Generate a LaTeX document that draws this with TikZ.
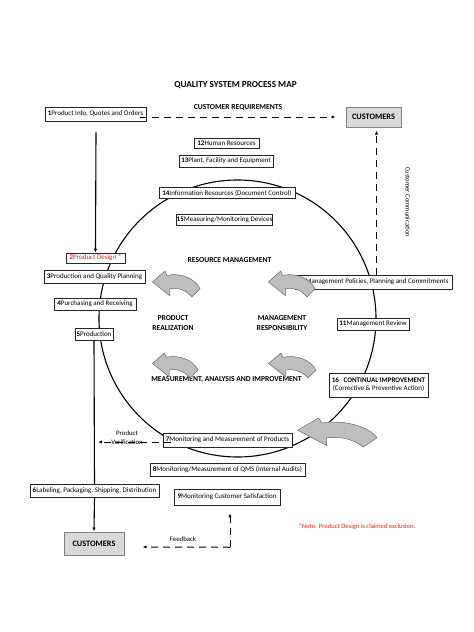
\documentclass[tikz,border=0pt]{standalone}
\usepackage{fontspec}
\setmainfont{Carlito}
\usetikzlibrary{calc,arrows.meta}
\definecolor{notered}{RGB}{215,40,40}
\definecolor{arrowfill}{RGB}{190,190,190}
\definecolor{arrowline}{RGB}{105,105,105}
\definecolor{custfill}{RGB}{217,217,217}
\newcommand{\garrowshape}[4]{\filldraw[garrow, shift={(#1,#2)}, xscale=#3, yscale=#4] (0.01,0.42) -- (0.27,0) -- (0.31,0.17) .. controls (0.6,0.05) and (0.9,0.3) .. (1,0.68) -- (0.83,1) .. controls (0.72,0.75) and (0.55,0.62) .. (0.37,0.68) -- (0.37,0.95) -- cycle;}
\begin{document}
\begin{tikzpicture}[x=1pt,y=-1pt,
 box/.style={draw=black!85, fill=white, line width=0.5pt, inner sep=0pt, font=\fontsize{7}{8}\selectfont},
 bx/.style 2 args={box, minimum width=#1pt, minimum height=#2pt},
 cust/.style={draw=black!50, fill=custfill, line width=1pt, inner sep=0pt, font=\bfseries\fontsize{8.3}{9}\selectfont},
 lbl/.style={font=\bfseries\fontsize{7.6}{9.6}\selectfont, align=center, inner sep=0pt},
 txt/.style={font=\fontsize{6.8}{8.5}\selectfont, align=center, inner sep=0pt},
 dasharrow/.style={dash pattern=on 7pt off 5pt, line width=1pt, -{Latex[length=4pt,width=3.2pt]}},
 solidarrow/.style={line width=1.1pt, -{Latex[length=4pt,width=3.2pt]}},
 solidline/.style={line width=1.1pt},
 garrow/.style={fill=arrowfill, draw=arrowline, line width=0.5pt}]
\fill[white] (0,0) rectangle (474,632);
\useasboundingbox (0,0) rectangle (474,632);

% big cycle
\draw[line width=1.1pt] (237.5,318.5) circle [radius=138.5pt];

% titles
\node[lbl, font=\bfseries\fontsize{9.2}{11}\selectfont] (title) at (235.5,85) {QUALITY SYSTEM PROCESS MAP};
\node[lbl] (creq) at (238,107) {CUSTOMER REQUIREMENTS};

% boxes
\node[bx={101}{14}] (b1) at (95.5,114) {\textbf{1}Product Info, Quotes and Orders};
\node[bx={59}{10}, text=notered] (b2) at (95.5,258) {\textbf{2}Product Design *};
\node[bx={101}{13}] (b3) at (94.5,276.5) {\textbf{3}Production and Quality Planning};
\node[bx={82}{12}] (b4) at (95,304) {\textbf{4}Purchasing and Receiving};
\node[bx={38}{12}] (b5) at (94,334) {\textbf{5}Production};
\node[bx={129}{13}] (b6) at (94.5,490.5) {\textbf{6}Labeling, Packaging, Shipping, Distribution};
\node[bx={129}{14}] (b7) at (227.5,440) {\textbf{7}Monitoring and Measurement of Products};
\node[bx={155}{13}] (b8) at (227.5,469.5) {\textbf{8}Monitoring/Measurement of QMS (Internal Audits)};
\node[bx={106}{16}] (b9) at (227,497) {\textbf{9}Monitoring Customer Satisfaction};
\node[bx={157}{14}] (b10) at (373.5,282) {\textbf{10}Management Policies, Planning and Commitments};
\node[bx={72}{12}] (b11) at (373,324) {\textbf{11}Management Review};
\node[bx={65}{10}] (b12) at (226.5,143.5) {\textbf{12}Human Resources};
\node[bx={94}{12}] (b13) at (226,161) {\textbf{13}Plant, Facility and Equipment};
\node[bx={136}{11}] (b14) at (227,193) {\textbf{14}Information Resources (Document Control)};
\node[bx={95}{11}] (b15) at (224.5,219.5) {\textbf{15}Measuring/Monitoring Devices};
\node[bx={99}{24}, align=center] (b16) at (378.5,385) {\textbf{16\ \ \ CONTINUAL IMPROVEMENT}\\(Corrective \& Preventive Action)};
\node[cust, minimum width=55pt, minimum height=20pt] (cust1) at (373.5,117) {CUSTOMERS};
\node[cust, minimum width=60pt, minimum height=23pt] (cust2) at (94,543.5) {CUSTOMERS};

% section labels
\node[lbl] (rm) at (229.5,260) {RESOURCE MANAGEMENT};
\node[lbl] (pr) at (173,323) {PRODUCT\\REALIZATION};
\node[lbl] (mr) at (282,323) {MANAGEMENT\\RESPONSIBILITY};
\node[lbl] (mai) at (226.5,380) {MEASUREMENT, ANALYSIS AND IMPROVEMENT};

% gray curved arrows
\garrowshape{152}{271}{48}{26}
\garrowshape{268}{271}{47}{26}
\garrowshape{152}{353}{46}{25}
\garrowshape{268}{353}{48}{25}
\garrowshape{297}{418}{80}{29}

% connectors
\coordinate (v1) at ($(b1.south)+(0.5,11)$);
\draw[solidarrow] (v1) -- (b2.north);
\draw[solidline] (b5.south) -- (b6.north);
\draw[solidarrow] (b6.south) -- (cust2.north);
\draw[dasharrow] ($(b1.east |- cust1.west)+(-6,0)$) -- ($(cust1.west)+(-10,0)$);
\draw[dasharrow] ($(b10.north)+(3,0)$) -- ($(cust1.south)+(3,3)$);
\draw[dasharrow] ($(b7.west)+(8,2)$) -- ($(b7.west -| b5.south)+(4,2)$);
\coordinate (fb) at ($(b9.south)+(3,42)$);
\draw[dasharrow] (fb) -- ($(b9.south)+(3,8)$);
\draw[dasharrow] (fb) -- ($(cust2.east)+(18,3.5)$);

% other labels
\node[txt, font=\fontsize{6.6}{7.5}\selectfont, rotate=-90] (cc) at (408,202) {Customer Communication};
\node[txt, font=\fontsize{6.8}{9}\selectfont] (pv) at (127,438) {Product\\Verification};
\node[txt] (fbl) at (183,539) {Feedback};
\node[txt, text=notered, font=\fontsize{6.6}{7}\selectfont] (note) at (357,527) {*Note: Product Design is claimed exclusion.};
\end{tikzpicture}
\end{document}
